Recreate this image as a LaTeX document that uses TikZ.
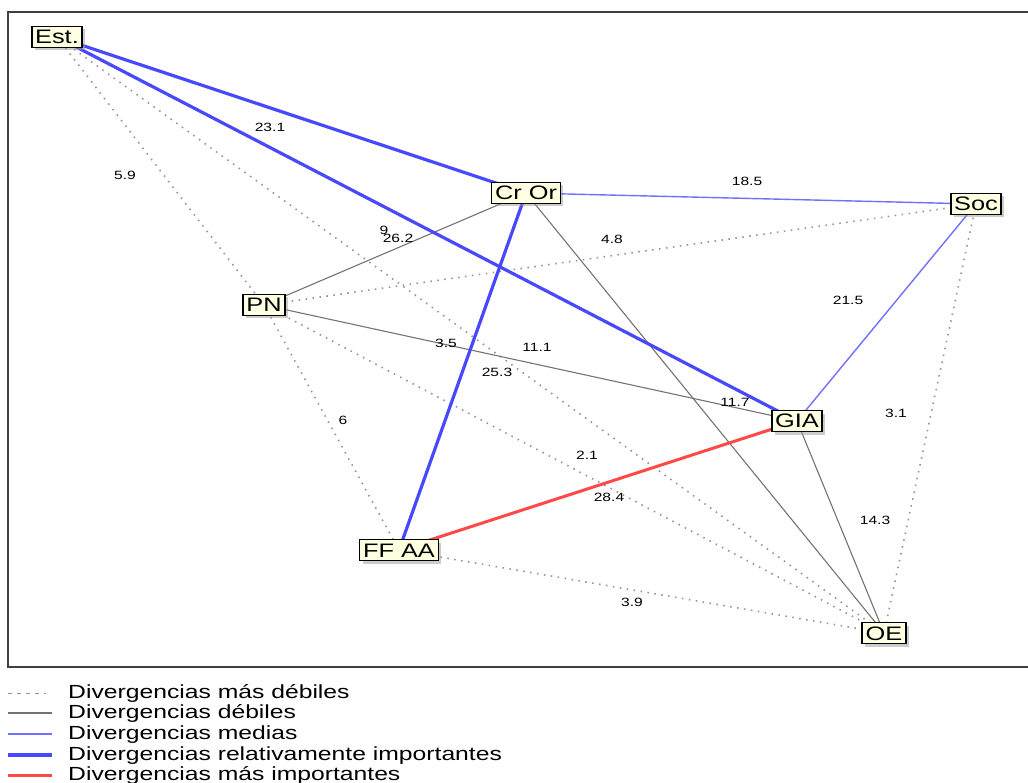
\documentclass[tikz,border=0pt]{standalone}
\usepackage{fontspec}
\newfontfamily\wf[FakeStretch=1.3]{Liberation Sans}
\usetikzlibrary{shadows,backgrounds}
\definecolor{boxfill}{HTML}{FFFFE1}
\definecolor{mblue}{HTML}{7070FF}
\definecolor{sblue}{HTML}{4848FF}
\definecolor{sred}{HTML}{FF4848}
\begin{document}
\begin{tikzpicture}[x=1pt,y=-1pt,
  box/.style={draw=black, line width=1.8pt, fill=boxfill,
    font=\wf\fontsize{19.5}{20}\selectfont, text height=14pt, text depth=0pt,
    inner xsep=3.5pt, inner ysep=3.5pt,
    drop shadow={shadow xshift=3pt, shadow yshift=-3pt, fill=black!40}},
  lab/.style={font=\wf\fontsize{12}{12}\selectfont, inner sep=0pt},
  weakest/.style={line width=1.6pt, draw=black!42, dash pattern=on 1.5pt off 5.5pt},
  weak/.style={line width=1.1pt, draw=black!55},
  medium/.style={line width=1.4pt, draw=mblue},
  strong/.style={line width=3.2pt, draw=sblue},
  strongest/.style={line width=3pt, draw=sred},
  legtext/.style={font=\wf\fontsize{19}{19}\selectfont, anchor=west, inner sep=0pt, text height=13.5pt, text depth=3.5pt}
]
\useasboundingbox (0,0) rectangle (1028,783);
\draw[line width=2.2pt, draw=black!75] (1040,12) -- (8,12) -- (8,667) -- (1040,667);

% nodes
\node[box] (est) at (57,37) {Est.};
\node[box] (cror) at (526,193) {Cr Or};
\node[box] (soc) at (976,204) {Soc};
\node[box] (pn) at (264,305) {PN};
\node[box] (gia) at (797,421) {GIA};
\node[box] (ffaa) at (399,550) {FF AA};
\node[box] (oe) at (884,633) {OE};

% edges
\begin{pgfonlayer}{background}
\draw[weakest] (est.center) -- (pn.center);
\draw[weakest] (est.center) -- (oe.center);
\draw[weakest] (pn.center) -- (soc.center);
\draw[weakest] (pn.center) -- (ffaa.center);
\draw[weakest] (pn.center) -- (oe.center);
\draw[weakest] (ffaa.center) -- (oe.center);
\draw[weakest] (soc.center) -- (oe.center);
\draw[weak] (pn.center) -- (cror.center);
\draw[weak] (pn.center) -- (gia.center);
\draw[weak] (cror.center) -- (oe.center);
\draw[weak] (gia.center) -- (oe.center);
\draw[medium] (cror.center) -- (soc.center);
\draw[medium] (soc.center) -- (gia.center);
\draw[strong] (est.center) -- (cror.center);
\draw[strong] (est.center) -- (gia.center);
\draw[strong] (cror.center) -- (ffaa.center);
\draw[strongest] (ffaa.center) -- (gia.center);
\end{pgfonlayer}

% edge labels
\node[lab] (l1) at (270,127) {23.1};
\node[lab] (l2) at (125,175) {5.9};
\node[lab] (l3) at (747,181) {18.5};
\node[lab] (l4) at (384,230) {9};
\node[lab] (l5) at (398,238) {26.2};
\node[lab] (l6) at (612,239) {4.8};
\node[lab] (l7) at (848,300) {21.5};
\node[lab] (l8) at (446,343) {3.5};
\node[lab] (l9) at (537,347) {11.1};
\node[lab] (l10) at (497,372) {25.3};
\node[lab] (l11) at (735,402) {11.7};
\node[lab] (l12) at (896,413) {3.1};
\node[lab] (l13) at (343,420) {6};
\node[lab] (l14) at (587,455) {2.1};
\node[lab] (l15) at (609,497) {28.4};
\node[lab] (l16) at (875,520) {14.3};
\node[lab] (l17) at (632,602) {3.9};

% legend
\coordinate (k1a) at (8,693); \coordinate (k1b) at (46,693);
\coordinate (k2a) at (8,713); \coordinate (k2b) at (52,713);
\coordinate (k3a) at (8,734); \coordinate (k3b) at (52,734);
\coordinate (k4a) at (8,755); \coordinate (k4b) at (52,755);
\coordinate (k5a) at (8,775); \coordinate (k5b) at (52,775);
\draw[weakest, line width=1pt, dash pattern=on 4pt off 5pt] (k1a) -- (k1b);
\draw[weak] (k2a) -- (k2b);
\draw[medium] (k3a) -- (k3b);
\draw[strong] (k4a) -- (k4b);
\draw[strongest] (k5a) -- (k5b);
\node[legtext] (t1) at (68,693) {Divergencias más débiles};
\node[legtext] (t2) at (68,713) {Divergencias débiles};
\node[legtext] (t3) at (68,734) {Divergencias medias};
\node[legtext] (t4) at (68,755) {Divergencias relativamente importantes};
\node[legtext] (t5) at (68,775) {Divergencias más importantes};
\end{tikzpicture}
\end{document}
